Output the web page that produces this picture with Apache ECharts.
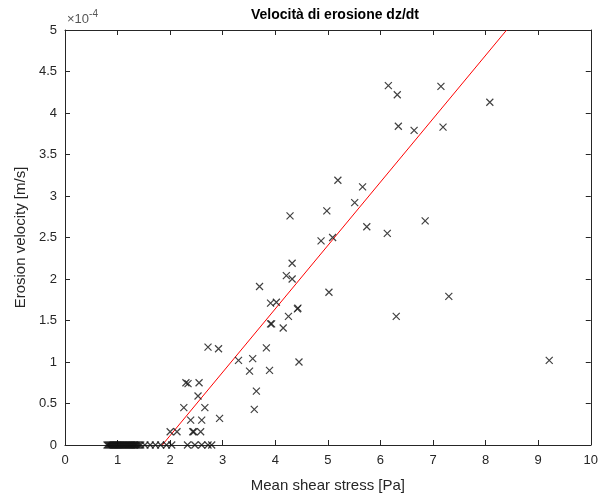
<!DOCTYPE html>
<html>
<head>
<meta charset="utf-8">
<script src="https://cdn.jsdelivr.net/npm/echarts@6/dist/echarts.min.js"></script>
<style>html,body{margin:0;padding:0;background:#fff}#c{width:601px;height:502px}</style>
</head>
<body>
<div id="c"></div>
<script>
// Mean shear stress [Pa]
const stressX = [
  6.15, 6.32, 7.15, 6.34, 6.64, 7.19, 8.08,
  5.19, 5.66, 5.51, 4.98, 5.74, 6.13, 6.85, 4.87, 5.09, 5.02, 7.30, 6.30, 4.43, 4.45, 9.21,
  4.28, 4.32, 4.21, 4.32, 3.70, 3.91, 4.02, 4.42, 4.25, 3.91, 3.93, 4.15,
  3.83, 2.72, 2.92, 3.30, 3.57, 3.51, 3.89, 3.64, 3.60,
  2.30, 2.34, 2.55, 2.53, 2.26, 2.66, 2.39, 2.60, 2.94, 2.43, 2.45, 2.58, 2.00, 2.13,
  0.80, 0.82, 0.84, 0.86, 0.88, 0.90, 0.92, 0.94, 0.96, 0.98, 1.00, 1.02, 1.04, 1.06,
  1.08, 1.10, 1.12, 1.14, 1.16, 1.18, 1.20, 1.22, 1.24, 1.26, 1.28, 1.30, 1.32, 1.34,
  1.36, 1.38, 1.41, 1.44,
  1.52, 1.62, 1.72, 1.82, 1.93, 2.03, 2.33, 2.47, 2.60, 2.72, 2.79
];
// Erosion velocity [x 1e-4 m/s]
const velocityY = [
  4.33, 4.22, 4.32, 3.84, 3.79, 3.83, 4.13,
  3.19, 3.11, 2.92, 2.82, 2.63, 2.55, 2.70, 2.46, 2.50, 1.84, 1.79, 1.55, 1.65, 1.00, 1.02,
  2.76, 2.19, 2.04, 2.00, 1.91, 1.71, 1.72, 1.64, 1.55, 1.46, 1.46, 1.41,
  1.17, 1.18, 1.16, 1.02, 1.04, 0.89, 0.90, 0.65, 0.43,
  0.75, 0.74, 0.75, 0.59, 0.45, 0.45, 0.30, 0.30, 0.32, 0.16, 0.16, 0.16, 0.16, 0.16,
  0, 0, 0, 0, 0, 0, 0, 0, 0, 0, 0, 0, 0, 0,
  0, 0, 0, 0, 0, 0, 0, 0, 0, 0, 0, 0, 0, 0,
  0, 0, 0, 0,
  0, 0, 0, 0, 0, 0, 0, 0, 0, 0, 0
];
// Fitted line endpoints
const fitX = [1.85, 8.40];
const fitY = [0, 5];

const xTicks = [0,1,2,3,4,5,6,7,8,9,10];
const yTicks = [0,0.5,1,1.5,2,2.5,3,3.5,4,4.5,5];

const points = stressX.map((x, i) => [x, velocityY[i]]);
const fit = fitX.map((x, i) => [x, fitY[i]]);

const FONT = 'Liberation Sans, Arial, Helvetica, sans-serif';
const tickColor = '#262626';
const chart = echarts.init(document.getElementById('c'), null, {renderer: 'canvas'});
const axisCommon = {
  axisLine: {show: true, onZero: false, lineStyle: {color: '#262626', width: 1}},
  axisTick: {show: true, inside: true, length: 5, lineStyle: {color: '#262626'}},
  splitLine: {show: false}
};
chart.setOption({
  animation: false,
  backgroundColor: '#fff',
  title: {
    text: 'Velocità di erosione dz/dt',
    left: 330, top: 3, textAlign: 'center',
    textStyle: {fontFamily: FONT, fontSize: 14, fontWeight: 'bold', color: '#000'}
  },
  grid: {left: 65, right: 8, top: 30, bottom: 57, containLabel: false},
  xAxis: [
    Object.assign({
      type: 'value', min: 0, max: 10, interval: 1, position: 'bottom',
      name: 'Mean shear stress [Pa]', nameLocation: 'middle', nameGap: 33,
      nameTextStyle: {fontFamily: FONT, fontSize: 15, color: tickColor},
      axisLabel: {fontFamily: FONT, fontSize: 13, color: tickColor, margin: 9,
        formatter: v => xTicks.includes(v) ? String(v) : ''}
    }, axisCommon),
    Object.assign({
      type: 'value', min: 0, max: 10, interval: 1, position: 'top',
      axisLabel: {show: false}
    }, axisCommon)
  ],
  yAxis: [
    Object.assign({
      type: 'value', min: 0, max: 5, interval: 0.5, position: 'left',
      name: 'Erosion velocity [m/s]', nameLocation: 'middle', nameGap: 37,
      nameTextStyle: {fontFamily: FONT, fontSize: 15, color: tickColor},
      axisLabel: {fontFamily: FONT, fontSize: 13, color: tickColor, margin: 8,
        formatter: v => yTicks.includes(v) ? String(v) : ''}
    }, axisCommon),
    Object.assign({
      type: 'value', min: 0, max: 5, interval: 0.5, position: 'right',
      axisLabel: {show: false}
    }, axisCommon)
  ],
  graphic: [{
    type: 'text', left: 67, top: 9,
    style: {
      text: '{a|×10}{b|-4}',
      rich: {
        a: {fontFamily: FONT, fontSize: 13, fill: '#555', verticalAlign: 'bottom'},
        b: {fontFamily: FONT, fontSize: 10, fill: '#555', padding: [0,0,7,0]}
      }
    }
  }],
  series: [
    {
      type: 'scatter', xAxisIndex: 0, yAxisIndex: 0,
      data: points,
      symbol: 'path://M0,0L10,10M10,0L0,10',
      symbolSize: 7,
      itemStyle: {color: 'none', borderColor: '#111', borderWidth: 1.2},
      silent: true, z: 3
    },
    {
      type: 'line', xAxisIndex: 0, yAxisIndex: 0,
      data: fit, showSymbol: false, symbol: 'none',
      lineStyle: {color: '#ff0000', width: 1},
      silent: true, z: 2
    }
  ]
});
</script>
</body>
</html>
